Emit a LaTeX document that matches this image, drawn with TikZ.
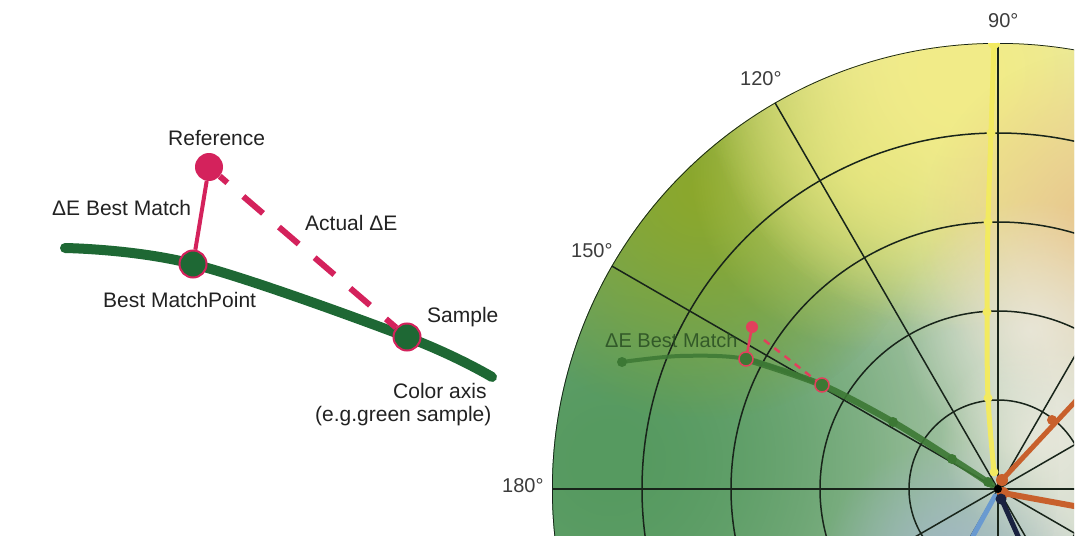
\documentclass[tikz,border=0pt]{standalone}
\usepackage{fontspec}
\setmainfont{Liberation Sans}
\usetikzlibrary{positioning,fadings}

\definecolor{axisgreen}{RGB}{30,104,52}
\definecolor{refpink}{RGB}{212,34,92}
\definecolor{txtgray}{RGB}{34,34,34}
\definecolor{deggray}{RGB}{60,60,60}
\definecolor{gridcol}{RGB}{24,36,26}
\definecolor{bgbase}{RGB}{214,222,208}
\definecolor{bggreen}{RGB}{86,154,96}
\definecolor{bgolive}{RGB}{140,168,44}
\definecolor{bglime}{RGB}{204,216,110}
\definecolor{bgyellow}{RGB}{242,236,136}
\definecolor{bgorange}{RGB}{234,196,136}
\definecolor{bgcream}{RGB}{236,234,222}
\definecolor{bgblue}{RGB}{160,182,200}
\definecolor{chgreen}{RGB}{60,120,52}
\definecolor{chpink}{RGB}{226,64,92}
\definecolor{chyellow}{RGB}{242,234,96}
\definecolor{chorange}{RGB}{200,96,44}
\definecolor{chblue}{RGB}{106,154,208}
\definecolor{chnavy}{RGB}{26,34,64}

\tikzfading[name=softspot, inner color=transparent!0, outer color=transparent!100]

\begin{document}
\begin{tikzpicture}[x=1pt,y=-1pt,
  lbl/.style={font=\fontsize{21}{25}\selectfont, text=txtgray, inner sep=0pt},
  deg/.style={font=\fontsize{20}{24}\selectfont, text=deggray, inner sep=0pt},
  matchdot/.style={circle, draw=refpink, line width=2pt, fill=axisgreen, minimum size=27pt, inner sep=0pt},
  refdot/.style={circle, fill=refpink, minimum size=28pt, inner sep=0pt},
  axisline/.style={line width=10pt, axisgreen, line cap=round},
  gridline/.style={line width=1.5pt, gridcol},
  spot/.style={path fading=softspot},
  chline/.style={line width=#1, line cap=round, line join=round},
  chdot/.style={fill=#1},
  chmatch/.style={fill=chgreen, draw=chpink, line width=1.5pt}
]
\useasboundingbox (0,0) rectangle (1080,543);
\fill[white] (0,0) rectangle (1080,543);

% colour axis sketch
\draw[axisline] plot[smooth, tension=.6] coordinates {(65,248) (193,264) (407,337) (492,377)};
\node[matchdot] (bmp) at (193,264) {};
\node[matchdot] (smp) at (407,337) {};
\node[refdot] (ref) at (209,167) {};
\draw[refpink, line width=4pt] (ref) -- (bmp);
\draw[refpink, line width=6pt, dash pattern=on 26pt off 21pt, dash phase=16pt] (ref) -- (smp);

\node[lbl, anchor=base west] (reflbl) at (168,145) {Reference};
\node[lbl, anchor=base west] (bestlbl) at (52,215) {ΔE Best Match};
\node[lbl, anchor=base west] (actlbl) at (305,230) {Actual ΔE};
\node[lbl, anchor=base west] (bmplbl) at (103,307) {Best MatchPoint};
\node[lbl, anchor=base west] (smplbl) at (427,322) {Sample};
\node[lbl, anchor=base west] (axlbl) at (393,398) {Color axis};
\node[lbl, anchor=base west] (eglbl) at (315,421) {(e.g.green sample)};

% polar chart
\begin{scope}
  \clip (998,489) circle (446pt);
  \clip (540,0) rectangle (1074,535);
  \fill[bgbase] (540,0) rectangle (1080,543);
  \foreach \k in {1,2} {
    \fill[spot, bggreen] (610,460) circle (450pt);
    \fill[spot, bgolive] (700,190) circle (230pt);
  }
  \fill[spot, bglime] (870,170) circle (180pt);
  \foreach \k in {1,2}
    \fill[spot, bgyellow] (960,70) circle (260pt);
  \fill[spot, bgorange] (1100,230) circle (180pt);
  \fill[spot, bgcream, opacity=.8] (1030,330) circle (130pt);
  \fill[spot, bgblue] (950,570) circle (130pt);
  \fill[spot, bgcream, opacity=.8] (1040,440) circle (100pt);

  \begin{scope}[shift={(998,489)}, yscale=-1]
    \foreach \r in {89,178,267,356,446}
      \draw[gridline] (0,0) circle (\r pt);
    \foreach \a in {0,30,...,330}
      \draw[gridline] (0,0) -- (\a:446);
  \end{scope}

  % sample axes
  \draw[chline=5pt, chyellow] plot[smooth] coordinates {(994,43) (991,133) (988,222) (987,312) (988,398) (994,472)};
  \foreach \p in {(991,133),(988,222),(987,312),(988,398),(994,472)}
    \fill[chdot=chyellow] \p circle (4.5pt);
  \fill[chdot=chyellow] (994,43) circle (6pt);

  \draw[chline=5pt, chorange] (1002,480) -- (1085,391);
  \fill[chdot=chorange] (1002,480) circle (6pt);
  \fill[chdot=chorange] (1052,420) circle (5pt);
  \draw[chline=6pt, chorange] (1003,493) -- (1085,508);
  \fill[chdot=chorange] (1003,493) circle (6pt);

  \draw[chline=5pt, chblue] (995,496) -- (968,545);
  \draw[chline=5pt, chnavy] (1001,498) -- (1022,545);
  \fill[chdot=chnavy] (1001,499) circle (5.5pt);
  \fill[black] (998,489) circle (4pt);

  \draw[chline=4pt, chgreen, opacity=.85] plot[smooth] coordinates {(622,362) (680,356) (746,359) (822,385)};
  \draw[chline=6.5pt, chgreen, opacity=.9] plot[smooth] coordinates {(746,359) (822,385) (893,422) (952,459) (992,485)};
  \foreach \p in {(622,362),(893,422),(952,459),(988,482)}
    \fill[chdot=chgreen] \p circle (5pt);
  \draw[chpink, line width=2.5pt] (752,327) -- (746,359);
  \draw[chpink, line width=2.5pt, dash pattern=on 7pt off 6pt] (764,340) -- (818,382);
  \fill[chdot=chpink] (752,327) circle (6pt);
  \filldraw[chmatch] (746,359) circle (7pt);
  \filldraw[chmatch] (822,385) circle (7pt);
  \node[font=\fontsize{20}{24}\selectfont, text=chgreen!60!black, opacity=.8, inner sep=0pt, anchor=base west] (chlbl) at (605,347) {ΔE Best Match};
\end{scope}

\node[deg, anchor=base west] (d90) at (988,28) {90°};
\node[deg, anchor=base west] (d120) at (740,86) {120°};
\node[deg, anchor=base west] (d150) at (571,257) {150°};
\node[deg, anchor=base west] (d180) at (502,492) {180°};
\end{tikzpicture}
\end{document}
